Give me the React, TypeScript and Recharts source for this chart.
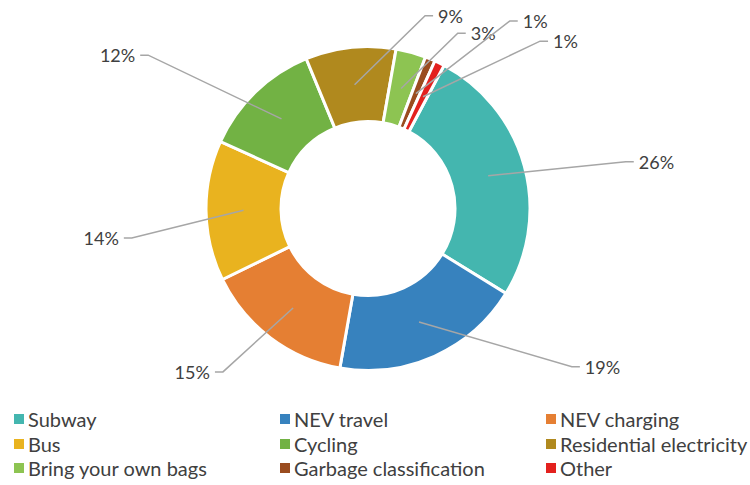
import React from 'react';
import { PieChart, Pie, Cell, Legend } from 'recharts';

const categories = [
  'Subway',
  'NEV travel',
  'NEV charging',
  'Bus',
  'Cycling',
  'Residential electricity',
  'Bring your own bags',
  'Garbage classification',
  'Other',
];
const shares = [26, 19, 15, 14, 12, 9, 3, 1, 1];
const colors = [
  '#44B6AF',
  '#3782BE',
  '#E57F33',
  '#E9B31F',
  '#72B244',
  '#B0891E',
  '#8DC452',
  '#9A4C1F',
  '#E3211E',
];

// label layout: [angular shift in degrees (clockwise), radius of elbow]
const labelLayout: [number, number][] = [
  [4.9, 262],
  [-28, 258],
  [4.6, 218.5],
  [-6.3, 238],
  [-11.1, 268],
  [22.7, 201],
  [11.7, 197],
  [14.5, 235],
  [19.6, 240],
];

const data = categories.map((name, i) => ({ name, value: shares[i] }));

const RAD = Math.PI / 180;
const FONT = 'Lato, "Source Sans Pro", sans-serif';
const TEXT = '#404040';

const renderLabel = (props: any) => {
  const { cx, cy, midAngle, innerRadius, outerRadius, index, value } = props;
  const r0 = (innerRadius + outerRadius) / 2;
  const x0 = cx + r0 * Math.cos(-midAngle * RAD);
  const y0 = cy + r0 * Math.sin(-midAngle * RAD);
  const [shift, R] = labelLayout[index];
  const ang = midAngle - shift;
  const x1 = cx + R * Math.cos(-ang * RAD);
  const y1 = cy + R * Math.sin(-ang * RAD);
  const side = x1 >= cx ? 1 : -1;
  const x2 = x1 + side * 8;
  return (
    <g key={`lbl-${index}`}>
      <polyline
        points={`${x0},${y0} ${x1},${y1} ${x2},${y1}`}
        fill="none"
        stroke="#A6A6A6"
        strokeWidth={1.5}
      />
      <text
        x={x2 + side * 5}
        y={y1}
        textAnchor={side > 0 ? 'start' : 'end'}
        dominantBaseline="central"
        fill={TEXT}
        fontSize={18}
        fontFamily={FONT}
      >
        {`${value}%`}
      </text>
    </g>
  );
};

const LegendContent = () => (
  <div
    style={{
      display: 'grid',
      gridTemplateColumns: '266px 266px 220px',
      rowGap: 0,
      fontFamily: FONT,
      fontSize: 20,
      color: TEXT,
    }}
  >
    {categories.map((c, i) => (
      <div key={c} style={{ display: 'flex', alignItems: 'center', height: 24.5 }}>
        <span
          style={{
            display: 'inline-block',
            width: 10,
            height: 10,
            background: colors[i],
            marginRight: 4,
            flexShrink: 0,
          }}
        />
        <span style={{ whiteSpace: 'nowrap' }}>{c}</span>
      </div>
    ))}
  </div>
);

export default function App() {
  return (
    <div style={{ position: 'absolute', left: 0, top: 0, width: 750, height: 485, background: '#fff' }}>
      <PieChart width={750} height={485} margin={{ top: 0, right: 0, bottom: 0, left: 0 }}>
        <Pie
          data={data}
          dataKey="value"
          nameKey="name"
          cx={368}
          cy={208.5}
          innerRadius={87}
          outerRadius={162}
          startAngle={62}
          endAngle={-298}
          stroke="#ffffff"
          strokeWidth={3}
          label={renderLabel}
          labelLine={false}
          isAnimationActive={false}
        >
          {data.map((d, i) => (
            <Cell key={d.name} fill={colors[i]} />
          ))}
        </Pie>
        <Legend
          content={<LegendContent />}
          wrapperStyle={{ position: 'absolute', left: 14, top: 407, width: 740 }}
        />
      </PieChart>
    </div>
  );
}
